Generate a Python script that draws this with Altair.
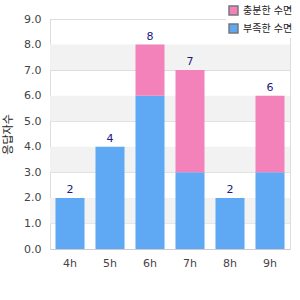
import altair as alt
import pandas as pd

categories = ["4h", "5h", "6h", "7h", "8h", "9h"]
blue_vals = [2, 4, 6, 3, 2, 3]
pink_vals = [0, 0, 2, 4, 0, 3]
series_names = ["충분한 수면", "부족한 수면"]  # pink, blue
y_title = "응답자수"
stripe_lo = [1, 3, 5, 7]
stripe_hi = [2, 4, 6, 8]
y_ticks = [0, 1, 2, 3, 4, 5, 6, 7, 8, 9]

rows = []
for c, b, p in zip(categories, blue_vals, pink_vals):
    rows.append({"cat": c, "series": series_names[1], "val": b, "ord": 0})
    rows.append({"cat": c, "series": series_names[0], "val": p, "ord": 1})
df = pd.DataFrame(rows)
tot = pd.DataFrame({"cat": categories, "total": [b + p for b, p in zip(blue_vals, pink_vals)]})
stripes = pd.DataFrame({"lo": stripe_lo, "hi": stripe_hi})

W, H = 240, 230
yscale = alt.Scale(domain=[0, 9], nice=False)
xscale = alt.Scale(paddingInner=0.275, paddingOuter=0.1375)

y_axis = alt.Axis(title=y_title, format=".1f", values=y_ticks, ticks=False,
                  labelOverlap=False, labelFlush=False,
                  labelPadding=9, labelColor="#444", labelFontSize=11,
                  titleFontSize=11, titleFontWeight="normal", titleColor="#222",
                  titlePadding=10, gridColor="#dddddd", domainColor="#dddddd")
x_axis = alt.Axis(title=None, labelAngle=0, ticks=False, labelPadding=8,
                  labelColor="#444", labelFontSize=11, domainColor="#cccccc")

band = alt.Chart(stripes).mark_rect(color="#f2f2f2").encode(
    x=alt.value(0), x2=alt.value(W),
    y=alt.Y("lo:Q", scale=yscale, axis=y_axis), y2="hi:Q",
)

bars = alt.Chart(df).mark_bar().encode(
    x=alt.X("cat:N", sort=categories, scale=xscale, axis=x_axis),
    y=alt.Y("sum(val):Q", scale=yscale, stack="zero", axis=y_axis),
    color=alt.Color("series:N", scale=alt.Scale(domain=series_names, range=["#f282b9", "#5fa8f3"]),
                    legend=alt.Legend(title=None, orient="none", legendX=176, legendY=-16,
                                      symbolType="square", symbolSize=80, symbolStrokeColor="#777",
                                      symbolStrokeWidth=1.5, labelFontSize=10, labelColor="#222",
                                      rowPadding=3, fillColor="white", padding=2)),
    order=alt.Order("ord:Q"),
)

labels = alt.Chart(tot).mark_text(dy=-8, color="#1a1a80", fontSize=11).encode(
    x=alt.X("cat:N", sort=categories, scale=xscale, axis=x_axis),
    y=alt.Y("total:Q", scale=yscale, axis=y_axis), text="total:Q"
)

chart = alt.layer(band, bars, labels).properties(
    width=W, height=H, autosize=alt.AutoSizeParams(type="none"),
    padding={"left": 50, "top": 19, "right": 10, "bottom": 51},
).configure_view(stroke="#dddddd").configure(font="DejaVu Sans, Noto Sans CJK KR")

chart.save("out.html", embed_options={"renderer": "svg", "actions": False})
